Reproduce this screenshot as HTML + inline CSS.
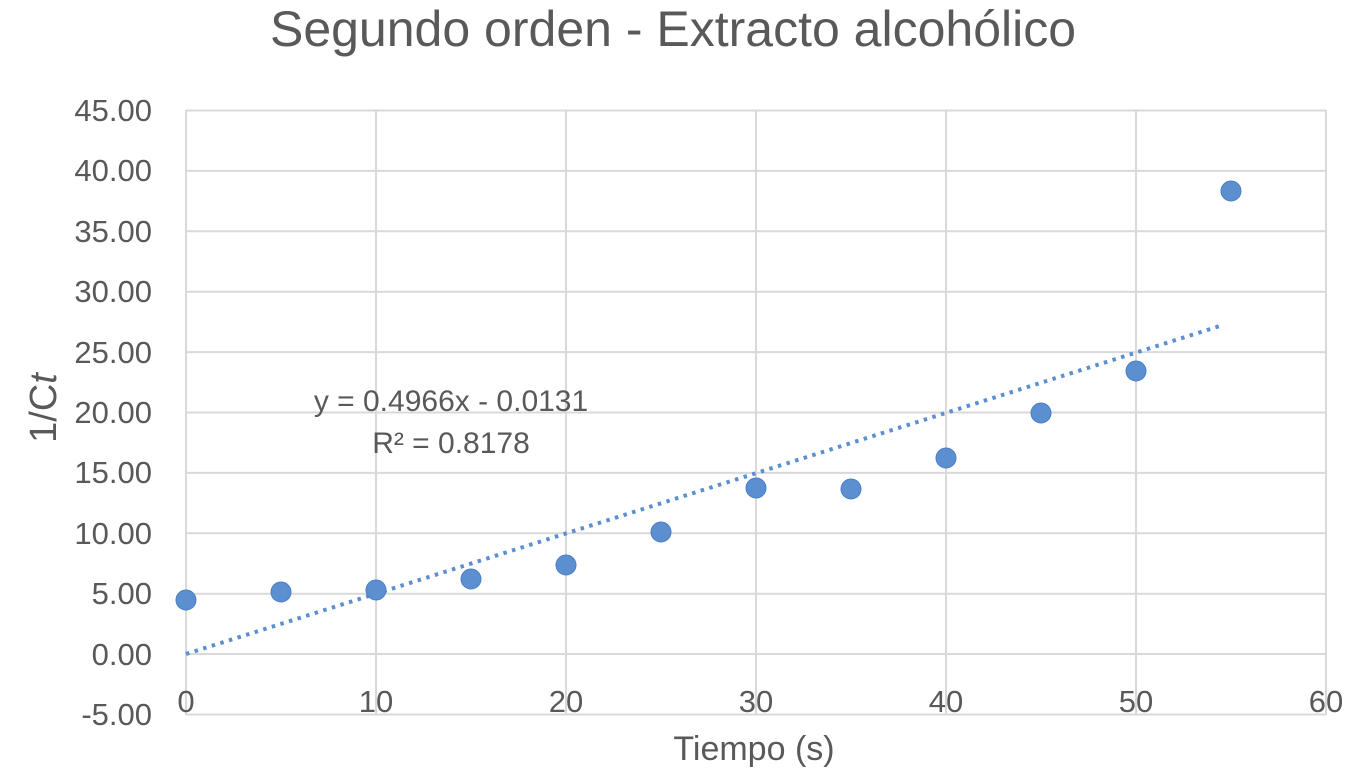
<!DOCTYPE html>
<html><head><style>body{margin:0;background:#fff}</style></head><body>
<svg width="1366" height="775" xmlns="http://www.w3.org/2000/svg" font-family="Liberation Sans, sans-serif" fill="#595959">
<rect width="1366" height="775" fill="#fff"/>
<text x="673" y="46" font-size="50" text-anchor="middle">Segundo orden - Extracto alcohólico</text>
<g stroke="#d9d9d9" stroke-width="2">
<line x1="186" x2="1326" y1="110.5" y2="110.5"/><line x1="186" x2="1326" y1="170.9" y2="170.9"/><line x1="186" x2="1326" y1="231.3" y2="231.3"/><line x1="186" x2="1326" y1="291.7" y2="291.7"/><line x1="186" x2="1326" y1="352.1" y2="352.1"/><line x1="186" x2="1326" y1="412.5" y2="412.5"/><line x1="186" x2="1326" y1="472.9" y2="472.9"/><line x1="186" x2="1326" y1="533.3" y2="533.3"/><line x1="186" x2="1326" y1="593.7" y2="593.7"/><line x1="186" x2="1326" y1="654" y2="654"/><line x1="186" x2="1326" y1="714.5" y2="714.5"/>
<line x1="186" x2="186" y1="110" y2="715"/><line x1="376" x2="376" y1="110" y2="715"/><line x1="566" x2="566" y1="110" y2="715"/><line x1="756" x2="756" y1="110" y2="715"/><line x1="946" x2="946" y1="110" y2="715"/><line x1="1136" x2="1136" y1="110" y2="715"/><line x1="1326" x2="1326" y1="110" y2="715"/>
</g>
<g font-size="31" text-anchor="end">
<text x="152" y="121">45.00</text><text x="152" y="181">40.00</text><text x="152" y="242">35.00</text><text x="152" y="302">30.00</text><text x="152" y="363">25.00</text><text x="152" y="423">20.00</text><text x="152" y="483">15.00</text><text x="152" y="544">10.00</text><text x="152" y="604">5.00</text><text x="152" y="665">0.00</text><text x="152" y="725">-5.00</text>
</g>
<g font-size="31" text-anchor="middle">
<text x="186" y="712">0</text><text x="376" y="712">10</text><text x="566" y="712">20</text><text x="756" y="712">30</text><text x="946" y="712">40</text><text x="1136" y="712">50</text><text x="1326" y="712">60</text>
</g>
<text x="754" y="760" font-size="34" text-anchor="middle">Tiempo (s)</text>
<text transform="translate(56,408) rotate(-90)" font-size="38" text-anchor="middle">1/C<tspan font-style="italic">t</tspan></text>
<line x1="186" y1="654" x2="1223" y2="325" stroke="#5b8fd0" stroke-width="4" stroke-dasharray="3.5 5.5"/>
<g fill="#5b8fd0" stroke="#4a7fc4" stroke-width="1">
<circle cx="186" cy="600" r="10"/><circle cx="281" cy="592" r="10"/><circle cx="376" cy="590" r="10"/><circle cx="471" cy="579" r="10"/><circle cx="566" cy="565" r="10"/><circle cx="661" cy="532" r="10"/><circle cx="756" cy="488" r="10"/><circle cx="851" cy="489" r="10"/><circle cx="946" cy="458" r="10"/><circle cx="1041" cy="413" r="10"/><circle cx="1136" cy="371" r="10"/><circle cx="1231" cy="191" r="10"/>
</g>
<g font-size="30" text-anchor="middle">
<text x="451" y="411">y = 0.4966x - 0.0131</text>
<text x="451" y="453">R² = 0.8178</text>
</g>
</svg>
</body></html>
